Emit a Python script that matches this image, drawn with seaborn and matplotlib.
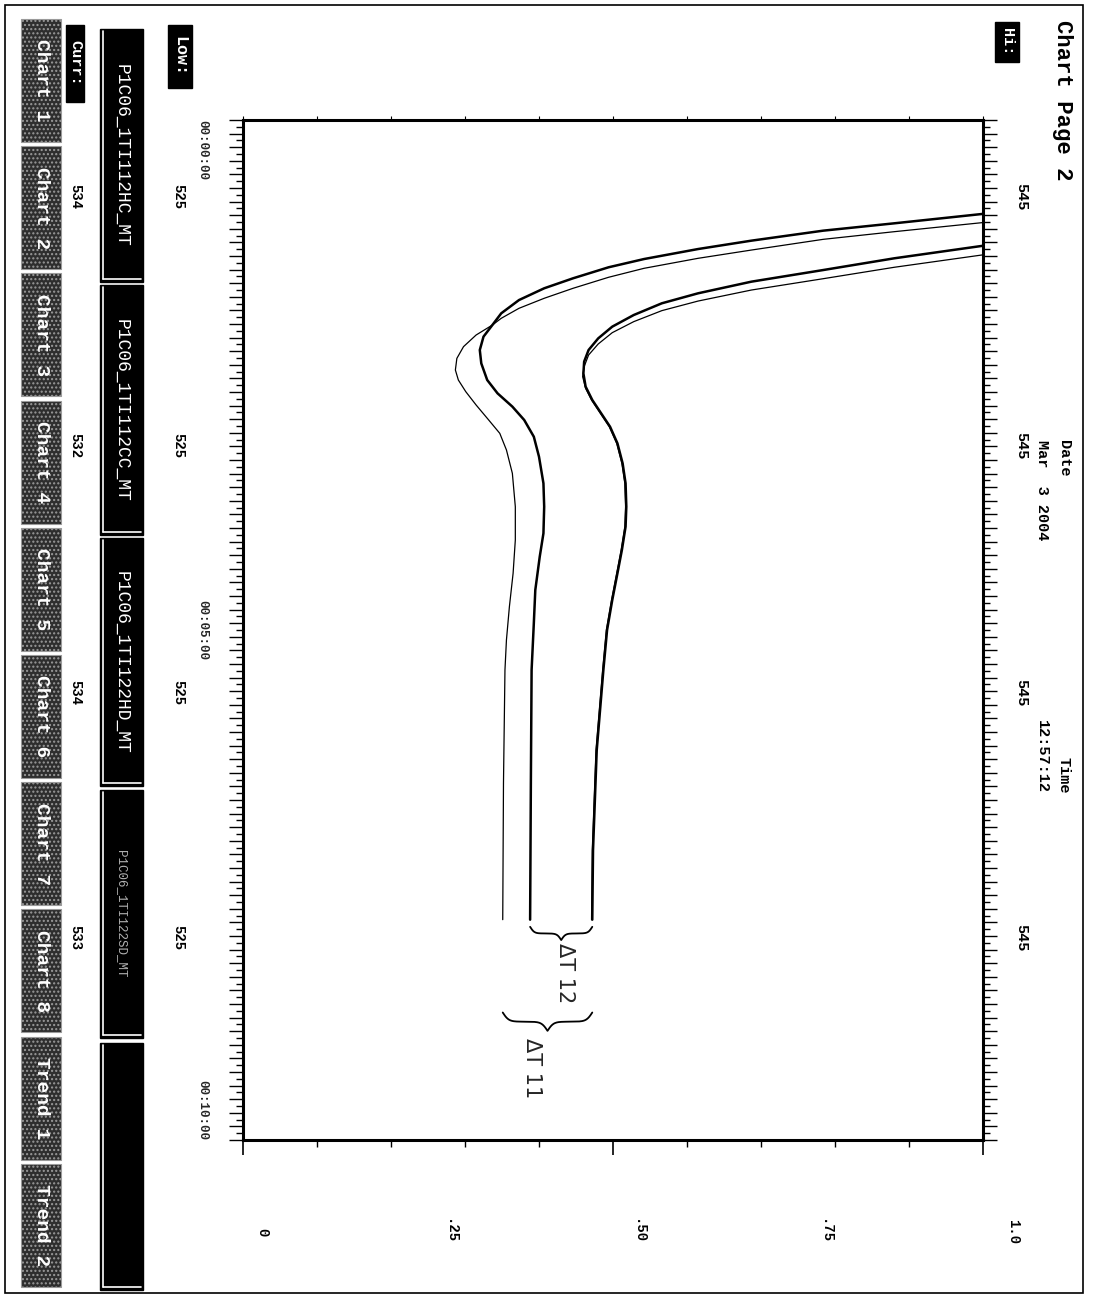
import numpy as np
import pandas as pd
import matplotlib
matplotlib.use('Agg')
import matplotlib.pyplot as plt
import seaborn as sns
from matplotlib.patches import Rectangle
from matplotlib.ticker import MultipleLocator, NullFormatter
from matplotlib import transforms

W, H = 1093, 1299

# minutes since start vs normalised reading (0..1)
t_a = [0.85, 1.007, 1.095, 1.170, 1.275, 1.356, 1.454, 1.542, 1.650, 1.748, 1.846, 1.944,
       2.010, 2.108, 2.222, 2.337, 2.451, 2.549, 2.663, 2.794, 2.941, 3.072, 3.235, 3.464,
       3.791, 4.118, 4.444, 4.771, 5.098, 5.392, 6.50, 7.84]
v_a = [1.20, 0.998, 0.880, 0.784, 0.687, 0.615, 0.542, 0.494, 0.446, 0.407, 0.373, 0.349,
       0.337, 0.315, 0.298, 0.289, 0.287, 0.291, 0.301, 0.315, 0.332, 0.347, 0.356, 0.364,
       0.368, 0.368, 0.365, 0.360, 0.356, 0.354, 0.352, 0.351]

t_b = [0.78, 0.922, 1.013, 1.085, 1.183, 1.265, 1.363, 1.444, 1.552, 1.650, 1.765, 1.895,
       2.010, 2.124, 2.255, 2.386, 2.549, 2.680, 2.810, 2.941, 3.105, 3.301, 3.562, 3.791,
       4.052, 4.281, 4.608, 4.935, 5.392, 6.50, 7.84]
v_b = [1.18, 0.998, 0.880, 0.784, 0.687, 0.615, 0.542, 0.494, 0.446, 0.407, 0.373, 0.349,
       0.337, 0.325, 0.320, 0.322, 0.330, 0.344, 0.364, 0.380, 0.393, 0.400, 0.406, 0.407,
       0.406, 0.401, 0.395, 0.393, 0.390, 0.389, 0.388]

t_c = [1.10, 1.235, 1.356, 1.471, 1.585, 1.699, 1.797, 1.912, 2.026, 2.141, 2.255, 2.369,
       2.484, 2.614, 2.745, 2.876, 3.007, 3.170, 3.366, 3.562, 3.791, 3.987, 4.216, 4.444,
       4.706, 5.000, 5.392, 6.18, 7.16, 7.84]
v_c = [1.13, 0.998, 0.880, 0.784, 0.687, 0.615, 0.566, 0.528, 0.499, 0.480, 0.467, 0.461,
       0.460, 0.463, 0.472, 0.484, 0.496, 0.506, 0.513, 0.517, 0.518, 0.517, 0.512, 0.506,
       0.499, 0.492, 0.487, 0.478, 0.473, 0.472]

t_d = [1.19, 1.324, 1.444, 1.556, 1.667, 1.775, 1.869, 1.977, 2.085, 2.196, 2.304, 2.418,
       2.516, 2.631, 2.745, 2.876, 3.007, 3.170, 3.366, 3.562, 3.791, 3.987, 4.216, 4.444,
       4.706, 5.000, 5.392, 6.18, 7.16, 7.84]
v_d = [1.13, 0.998, 0.880, 0.784, 0.687, 0.615, 0.566, 0.528, 0.499, 0.480, 0.467, 0.461,
       0.459, 0.463, 0.471, 0.483, 0.495, 0.505, 0.512, 0.516, 0.517, 0.516, 0.511, 0.505,
       0.498, 0.491, 0.486, 0.477, 0.472, 0.471]

tag_names = ['P1C06_1TI112HC_MT', 'P1C06_1TI112CC_MT', 'P1C06_1TI122HD_MT', 'P1C06_1TI122SD_MT', '']
hi_vals = ['545', '545', '545', '545']
low_vals = ['525', '525', '525', '525']
curr_vals = ['534', '532', '534', '533']
buttons = ['Chart 1', 'Chart 2', 'Chart 3', 'Chart 4', 'Chart 5', 'Chart 6',
           'Chart 7', 'Chart 8', 'Trend 1', 'Trend 2']
time_ticks = [0, 5, 10]
time_labels = ['00:00:00', '00:05:00', '00:10:00']
value_ticks = [0, 0.25, 0.5, 0.75, 1.0]
value_labels = ['0', '.25', '.50', '.75', '1.0']

sns.set_theme(style='white')
plt.rcParams['font.family'] = ['Liberation Mono', 'DejaVu Sans']

fig = plt.figure(figsize=(W / 100, H / 100), dpi=100)
fig.patch.set_facecolor('white')


def fx(px):
    return px / W


def fy(py):
    return 1 - py / H


def vtext(px, py, s, ha='left', size=11, color='black', weight='bold', **kw):
    # all the screen text is turned a quarter clockwise
    fig.text(fx(px), fy(py), s, rotation=270, rotation_mode='anchor', ha=ha,
             va='center', fontsize=size, color=color, fontweight=weight, **kw)


def box(x0, y0, x1, y1, **kw):
    fig.patches.append(Rectangle((fx(x0), fy(y1)), (x1 - x0) / W, (y1 - y0) / H,
                                 transform=fig.transFigure, **kw))


# plot area
ax = fig.add_axes([fx(243), fy(1140), (983 - 243) / W, (1140 - 120) / H])
traces = [(t_a, v_a, 0.9), (t_b, v_b, 1.8), (t_c, v_c, 1.8), (t_d, v_d, 0.9)]
for t, v, lw in traces:
    df = pd.DataFrame({'time': t, 'value': v})
    sns.lineplot(data=df, x='value', y='time', orient='y', estimator=None,
                 color='black', lw=lw, ax=ax)

ax.set_xlim(0, 1)
ax.set_ylim(10, 0)
ax.set_xlabel('')
ax.set_ylabel('')
for sp in ax.spines.values():
    sp.set_color('black')
    sp.set_linewidth(2.2)

ax.xaxis.set_major_locator(MultipleLocator(0.5))
ax.xaxis.set_minor_locator(MultipleLocator(0.1))
ax.tick_params(axis='x', which='major', direction='out', length=11, width=1.2,
               color='black', bottom=True, top=False, labelbottom=False)
ax.tick_params(axis='x', which='minor', direction='out', length=5, width=1.0,
               color='black', bottom=True, top=False)
top = ax.secondary_xaxis('top')
top.xaxis.set_major_locator(MultipleLocator(0.1))
top.xaxis.set_major_formatter(NullFormatter())
top.tick_params(direction='out', length=3, width=0.8, color='black')
top.spines['top'].set_visible(False)

ax.yaxis.set_major_locator(MultipleLocator(2 / 15))
ax.yaxis.set_minor_locator(MultipleLocator(1 / 15))
ax.tick_params(axis='y', which='major', direction='out', length=10, width=1.0,
               color='black', left=True, right=True, labelleft=False, labelright=False)
ax.tick_params(axis='y', which='minor', direction='out', length=5, width=1.0,
               color='black', left=True, right=True)

# hand drawn braces and delta labels


def brace(v0, v1, t0, depth, k=30):
    u = np.linspace(0, 1, 201)
    half = np.where(u <= 0.5, u, 1 - u)
    shape = 1 / (1 + np.exp(-k * half)) + 1 / (1 + np.exp(-k * (half - 0.5))) - 0.5
    ax.plot(v0 + (v1 - v0) * u, t0 + depth * shape, color='black', lw=1.3, clip_on=False)


brace(v_b[-1], v_c[-1], 7.91, 0.13)
brace(v_a[-1], v_c[-1], 8.75, 0.18)
ax.text(0.435, 8.07, 'ΔT 12', rotation=270, rotation_mode='anchor', ha='left',
        va='center', fontsize=15, family=['DejaVu Sans'])
ax.text(0.39, 9.0, 'ΔT 11', rotation=270, rotation_mode='anchor', ha='left',
        va='center', fontsize=15, family=['DejaVu Sans'])

# time labels along the left edge
trans = transforms.blended_transform_factory(fig.transFigure, ax.transData)
for tt, lab, al in zip(time_ticks, time_labels, ['left', 'center', 'right']):
    ax.text(fx(202), tt, lab, transform=trans, rotation=270, rotation_mode='anchor',
            ha=al, va='center', fontsize=9, fontweight='bold', clip_on=False)

# value scale printed below the frame
for v, lab in zip(value_ticks, value_labels):
    vtext(262 + v * 751, 1232, lab, ha='center', size=10)

# outer window border
box(5, 5, 1083, 1293, fill=False, edgecolor='black', lw=1.2)

# header
vtext(1063, 20, 'Chart Page 2', size=16)
box(995, 22, 1019, 62, facecolor='black', edgecolor='black')
vtext(1007, 42, 'Hi:', ha='center', size=11, color='white')
row_centres = [197, 446, 693, 938]
for yc, s in zip(row_centres, hi_vals):
    vtext(1021, yc, s, ha='center', size=11)
vtext(1064, 440, 'Date', size=11)
vtext(1042, 440, 'Mar  3 2004', size=11)
vtext(1042, 720, '12:57:12', size=11)
vtext(1064, 720 + 8 * 0.6 * 11 * 100 / 72, 'Time', ha='right', size=11)

# low / curr columns
box(168, 25, 192, 88, facecolor='black', edgecolor='black')
vtext(180, 56, 'Low:', ha='center', size=12, color='white')
for yc, s in zip(row_centres, low_vals):
    vtext(178, yc, s, ha='center', size=10)

box(66, 25, 84, 102, facecolor='black', edgecolor='black')
vtext(75, 63, 'Curr:', ha='center', size=11, color='white')
for yc, s in zip(row_centres, curr_vals):
    vtext(75, yc, s, ha='center', size=10)

# tag name boxes
tag_spans = [(29, 282), (285, 535), (538, 786), (790, 1038), (1043, 1290)]
for i, ((y0, y1), name) in enumerate(zip(tag_spans, tag_names)):
    box(100, y0, 143, y1, facecolor='black', edgecolor='black', lw=1)
    fig.add_artist(plt.Line2D([fx(103), fx(103)], [fy(y0 + 2), fy(y1 - 3)],
                              color='white', lw=1.2, transform=fig.transFigure))
    fig.add_artist(plt.Line2D([fx(103), fx(141)], [fy(y1 - 3), fy(y1 - 3)],
                              color='white', lw=1.2, transform=fig.transFigure))
    if i == 3:
        vtext(121, (y0 + y1) / 2, name, ha='center', size=9, color='#b0b0b0', weight='normal')
    elif name:
        vtext(121, (y0 + y1) / 2, name, ha='center', size=13, color='white', weight='normal')

# chart selector buttons
pitch = 127.2
for i, lab in enumerate(buttons):
    y0 = 19 + i * pitch
    box(21, y0, 61, y0 + 123, facecolor='#2e2e2e', edgecolor='#9a9a9a', lw=0.8, hatch='....')
    vtext(41, y0 + 61.5, lab, ha='center', size=14, color='white')

fig.savefig('out.png', dpi=100)
